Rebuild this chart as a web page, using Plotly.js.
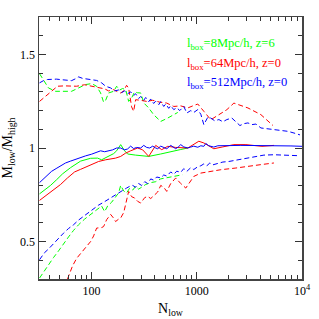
<!DOCTYPE html>
<html>
<head>
<meta charset="utf-8">
<script src="https://cdn.plot.ly/plotly-3.0.1.min.js"></script>
<style>html,body{margin:0;padding:0;background:#fff;}#chart{width:319px;height:319px;}</style>
</head>
<body>
<div id="chart"></div>
<script>
// Blue solid (512 Mpc/h, z=0)
var blueSolidN = [32,36.5,41.6,46,50.7,56.5,63.1,70.4,78.6,87.7,100,111.6,121.8,133,145.1,158.5,173,189,206,220,235,251,268,293,313,334,357,381,407,425,454,485,518,565,604,631,674,704,752,821,877,936,1022,1092,1166,1219,1300,1451,1585,1808,2109,2625,3270,4072,5067,6310,7852,10000];
var blueSolidV = [0.815,0.845,0.875,0.89,0.905,0.92,0.93,0.94,0.95,0.958,0.967,0.975,0.985,0.98,0.985,0.99,1.0,1.0,0.99,0.995,1.01,0.997,1.003,1.0,1.014,1.003,1.0,1.01,1.0,0.996,1.01,1.005,0.996,1.014,1.002,0.996,1.008,1.018,1.006,1.0,1.005,1.01,1.004,1.012,1.009,1.024,1.012,1.005,1.012,1.014,1.013,1.014,1.014,1.012,1.01,1.012,1.011,1.009];
// Red solid (64 Mpc/h, z=0)
var redSolidN = [32,37.3,43.5,50.7,59,68.9,78.6,93.6,116.6,136,169,189,211,235,251,274,306,349,407,464,529,631,821,936,1045,1166,1274,1451,1770,2252,2930,3650,4160,5411];
var redSolidV = [0.72,0.75,0.775,0.805,0.84,0.872,0.886,0.905,0.928,0.937,0.946,0.955,0.973,0.985,0.991,1.0,0.99,0.955,1.014,0.991,1.009,1.003,1.0,1.02,1.036,1.027,1.015,0.996,1.006,1.018,1.018,1.012,1.009,1.014];
// Green solid (8 Mpc/h, z=6)
var greenSolidN = [32,36.5,40.7,46.4,53,63.1,78.6,97.8,114,124.5,139,162,173,189,206,220,262,349,454,565,704,821];
var greenSolidV = [0.755,0.778,0.8,0.83,0.862,0.895,0.93,0.945,0.946,0.937,0.95,0.97,0.985,1.018,0.985,0.968,0.962,0.955,0.968,0.982,0.992,1.0];
// Blue dashed, upper
var blueUpN = [32,34.9,38.1,42.5,46.4,51.8,57.8,64.5,70.4,75.2,82.1,89.6,100,111.6,124.5,136,151.7,165.6,180.7,193,206,220,235,251,262,280,293,313,327,349,365,389,407,435,454,485,507,541,565,604,645,689,752,804,877,936,1022,1092,1166,1274,1358,1483,1622,1770,1932,2154,2352,2570,2805,3062,3340,3650,4072,4743,5411,6310,7360,8390,9570];
var blueUpV = [1.348,1.36,1.366,1.369,1.368,1.365,1.362,1.36,1.37,1.38,1.372,1.368,1.365,1.361,1.348,1.33,1.321,1.305,1.31,1.296,1.305,1.29,1.3,1.28,1.29,1.265,1.275,1.255,1.27,1.248,1.262,1.238,1.25,1.232,1.248,1.222,1.235,1.212,1.226,1.205,1.215,1.2,1.222,1.187,1.2,1.19,1.205,1.18,1.125,1.165,1.16,1.145,1.152,1.14,1.152,1.16,1.14,1.12,1.13,1.134,1.125,1.128,1.107,1.102,1.098,1.093,1.089,1.08,1.07];
// Red dashed, upper
var redUpN = [32,36.5,41.6,47.4,55.3,63.1,72,85.8,100,116.6,133,145,162,177,189,202,215,225,240,251,262,293,334,381,444,518,604,704,821,916,1022,1166,1358,1622,1932,2252,3062,4072,5297];
var redUpV = [1.249,1.276,1.303,1.33,1.332,1.33,1.33,1.338,1.33,1.321,1.316,1.305,1.312,1.3,1.294,1.305,1.335,1.32,1.22,1.196,1.258,1.255,1.249,1.255,1.245,1.24,1.222,1.225,1.214,1.225,1.235,1.196,1.151,1.178,1.205,1.24,1.214,1.178,1.12];
// Green dashed, upper
var greenUpN = [32,34.9,38.9,45.4,56.5,64.5,75.2,87.7,100,111.6,121.8,130,136,145,162,173,185,197,211,225,240,256,274,293,313,349,389,454,529,604,659];
var greenUpV = [1.397,1.365,1.321,1.303,1.303,1.303,1.321,1.339,1.344,1.33,1.294,1.245,1.255,1.294,1.303,1.33,1.31,1.318,1.312,1.249,1.267,1.3,1.295,1.294,1.241,1.214,1.178,1.142,1.16,1.178,1.19];
// Blue dashed, lower
var blueLowN = [32,35.6,38.9,43.5,48.5,54.1,60.4,67.4,75.2,83.9,93.6,104.5,116.6,130,145,162,180.7,202,215,230,246,262,280,299,320,341,365,389,416,454,485,518,565,604,645,704,752,804,877,936,1022,1092,1166,1246,1330,1420,1549,1770,2018,2352,2805,3493,4345,5411,7047,9162];
var blueLowV = [0.403,0.44,0.46,0.49,0.515,0.545,0.57,0.59,0.615,0.635,0.655,0.675,0.695,0.71,0.727,0.745,0.76,0.78,0.786,0.795,0.8,0.79,0.81,0.8,0.82,0.81,0.835,0.828,0.845,0.84,0.856,0.85,0.872,0.86,0.876,0.87,0.89,0.875,0.895,0.885,0.9,0.905,0.915,0.905,0.92,0.91,0.915,0.925,0.928,0.935,0.946,0.955,0.962,0.964,0.962,0.959];
// Green dashed, lower
var greenLowN = [32,35.6,38.9,43.5,48.5,54.1,60.4,67.4,75.2,85.8,97.8,109,116.6,124.5,133,142,155,169,180.7,189,202,215,230,246,262,280,299,327,365,407,454,507,565,631,731];
var greenLowV = [0.305,0.345,0.375,0.415,0.45,0.49,0.525,0.56,0.59,0.62,0.645,0.662,0.675,0.69,0.66,0.69,0.71,0.735,0.76,0.8,0.77,0.76,0.785,0.775,0.795,0.78,0.79,0.805,0.815,0.82,0.835,0.84,0.845,0.85,0.857];
// Red dashed, lower
var redLowN = [59,61.7,65.9,72,78.6,87.7,97.8,104.5,111.6,124.5,130,139,151.7,162,169,180.7,189,202,211,225,240,256,274,293,320,342,365,398,425,454,485,518,565,631,704,786,857,936,1092,1358,1693,2352,3270,4170,5411];
var redLowV = [0.3,0.33,0.37,0.41,0.435,0.465,0.5,0.53,0.572,0.575,0.58,0.617,0.645,0.625,0.607,0.62,0.626,0.655,0.7,0.768,0.74,0.733,0.715,0.706,0.735,0.741,0.73,0.75,0.765,0.8,0.79,0.768,0.81,0.84,0.81,0.786,0.82,0.848,0.866,0.875,0.884,0.893,0.902,0.912,0.92];

var legendLabels = ['l<sub>box</sub>=8Mpc/h, z=6','l<sub>box</sub>=64Mpc/h, z=0','l<sub>box</sub>=512Mpc/h, z=0'];
var legendColors = ['rgb(0,255,0)','rgb(255,0,0)','rgb(0,0,255)'];
var xTickVals = [100,1000,10000];
var xTickText = ['100','1000','10<sup>4</sup>'];

var G = 'rgb(0,255,0)', R = 'rgb(255,0,0)', B = 'rgb(0,0,255)';
var DASH = '5px,3px';
function tr(x, y, c, dash) {
  return {x: x, y: y, type: 'scatter', mode: 'lines', line: {color: c, width: 1, dash: dash || 'solid'}, hoverinfo: 'skip'};
}
var data = [
  tr(greenUpN, greenUpV, G, DASH),
  tr(redUpN, redUpV, R, DASH),
  tr(blueUpN, blueUpV, B, DASH),
  tr(greenLowN, greenLowV, G, DASH),
  tr(redLowN, redLowV, R, DASH),
  tr(blueLowN, blueLowV, B, DASH),
  tr(greenSolidN, greenSolidV, G),
  tr(redSolidN, redSolidV, R),
  tr(blueSolidN, blueSolidV, B)
];

var minorX = [];
[10,100,1000].forEach(function(d){ for (var k=2;k<=9;k++) minorX.push(k*d); });

var font = {family: 'Liberation Serif, DejaVu Serif, serif', size: 12, color: '#000'};
var annotations = legendLabels.map(function(t, i){
  return {text: t, xref: 'paper', yref: 'paper', x: (185-39)/263, y: 1 - ([44,63.5,83][i]-17)/262,
          xanchor: 'left', yanchor: 'middle', showarrow: false,
          font: {family: 'Liberation Serif, serif', size: 12.5, color: legendColors[i]}};
});

var layout = {
  width: 319, height: 319,
  margin: {l: 39, r: 17, t: 17, b: 40},
  paper_bgcolor: '#fff', plot_bgcolor: '#fff',
  showlegend: false,
  font: font,
  xaxis: {
    type: 'log', range: [1.5, 4], showgrid: false, zeroline: false,
    showline: true, linecolor: '#444', linewidth: 1.5, mirror: 'ticks',
    ticks: 'inside', ticklen: 7, tickcolor: '#333', tickwidth: 1,
    tickmode: 'array', tickvals: xTickVals, ticktext: xTickText,
    tickfont: font,
    minor: {tickmode: 'array', tickvals: minorX, ticks: 'inside', ticklen: 4, tickcolor: '#333', showgrid: false},
    title: {text: 'N<sub>low</sub>', font: {family: 'Liberation Serif, serif', size: 14, color: '#000'}, standoff: 6}
  },
  yaxis: {
    range: [0.3, 1.7], showgrid: false, zeroline: false,
    showline: true, linecolor: '#444', linewidth: 1.5, mirror: 'ticks',
    ticks: 'inside', ticklen: 7, tickcolor: '#333', tickwidth: 1,
    tickmode: 'array', tickvals: [0.5, 1, 1.5], ticktext: ['0.5','1','1.5'],
    tickfont: font,
    minor: {dtick: 0.1, tick0: 0, ticks: 'inside', ticklen: 4, tickcolor: '#333', showgrid: false},
    title: {text: 'M<sub>low</sub>/M<sub>high</sub>', font: {family: 'Liberation Serif, serif', size: 14, color: '#000'}, standoff: 4}
  },
  annotations: annotations
};
Plotly.newPlot('chart', data, layout, {staticPlot: true, displayModeBar: false});
</script>
</body>
</html>
